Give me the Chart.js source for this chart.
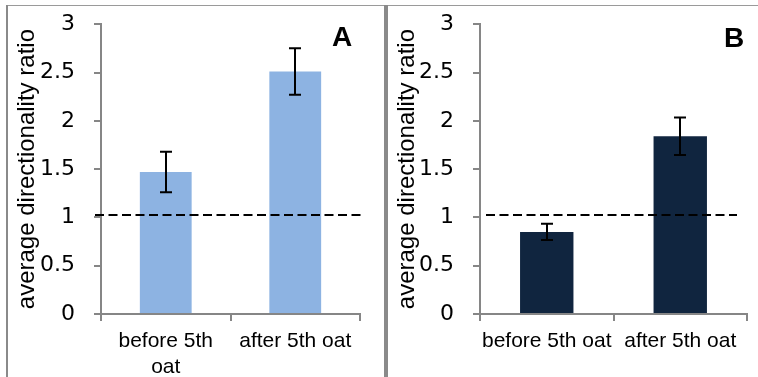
<!DOCTYPE html>
<html>
<head>
<meta charset="utf-8">
<script src="https://cdn.jsdelivr.net/npm/chart.js@4/dist/chart.umd.min.js"></script>
<style>
  html, body { margin: 0; padding: 0; background: #fff; }
  #wrap { position: relative; width: 758px; height: 377px; overflow: hidden; background: #fff; }
  #cA { position: absolute; left: 0; top: -8px; }
  #cB { position: absolute; left: 388px; top: -8px; }
  .ln { position: absolute; background: #8a8a8a; }
</style>
</head>
<body>
<div id="wrap">
  <canvas id="cA" width="384" height="385"></canvas>
  <canvas id="cB" width="370" height="385"></canvas>
  <div class="ln" style="left:6px;top:5px;width:752px;height:1px;background:#9a9a9a"></div>
  <div class="ln" style="left:6px;top:5px;width:2px;height:372px"></div>
  <div class="ln" style="left:384px;top:5px;width:4px;height:372px"></div>
</div>
<script>
// ---- data ----
const categoriesA = [["before 5th", "oat"], "after 5th oat"];
const categoriesB = ["before 5th oat", "after 5th oat"];
const valuesA = [1.47, 2.51];
const errorsA = [0.21, 0.24];
const valuesB = [0.85, 1.84];
const errorsB = [0.085, 0.195];
const referenceLevel = 1.02;
const yTicks = [0, 0.5, 1, 1.5, 2, 2.5, 3];
const yTitle = "average directionality ratio";

const FONT = "'Liberation Sans', Arial, sans-serif";
const TICKFONT = "'DejaVu Sans', 'Liberation Sans', sans-serif";
const AXIS = "#868686";

const errorBarPlugin = {
  id: 'errorBars',
  afterDatasetsDraw(chart, args, opts) {
    const ctx = chart.ctx, xs = chart.scales.x, ys = chart.scales.y;
    const meta = chart.getDatasetMeta(0);
    const vals = chart.data.datasets[0].data;
    ctx.save();
    ctx.strokeStyle = '#000';
    ctx.lineWidth = 2;
    opts.errors.forEach((e, i) => {
      const x = Math.round(meta.data[i].x);
      const yt = ys.getPixelForValue(vals[i] + e);
      const yb = ys.getPixelForValue(vals[i] - e);
      ctx.beginPath();
      ctx.moveTo(x, yt); ctx.lineTo(x, yb);
      ctx.moveTo(x - 6, yt); ctx.lineTo(x + 6, yt);
      ctx.moveTo(x - 6, yb); ctx.lineTo(x + 6, yb);
      ctx.stroke();
    });
    // reference line
    const yr = Math.round(ys.getPixelForValue(opts.ref));
    ctx.setLineDash([9, 4.5]);
    ctx.beginPath();
    ctx.moveTo(xs.left + opts.refLeft, yr);
    ctx.lineTo(xs.right + opts.refRight, yr);
    ctx.stroke();
    ctx.setLineDash([]);
    // panel letter
    ctx.fillStyle = '#000';
    ctx.font = "bold 28px " + FONT;
    ctx.textAlign = 'left';
    ctx.textBaseline = 'alphabetic';
    ctx.fillText(opts.letter, opts.lx, opts.ly);
    ctx.restore();
  }
};

function makeChart(id, labels, values, errors, color, cfg) {
  return new Chart(document.getElementById(id), {
    type: 'bar',
    data: {
      labels: labels,
      datasets: [{ data: values, backgroundColor: color, borderWidth: 0,
                   categoryPercentage: 1, barPercentage: 0.4 }]
    },
    options: {
      responsive: false,
      animation: false,
      events: [],
      layout: { padding: { left: cfg.padLeft, right: cfg.padRight, top: 14, bottom: 0 } },
      plugins: {
        legend: { display: false },
        tooltip: { enabled: false },
        errorBars: { errors: errors, ref: referenceLevel, refLeft: cfg.refLeft, refRight: cfg.refRight,
                     letter: cfg.letter, lx: cfg.lx, ly: cfg.ly }
      },
      scales: {
        x: {
          offset: true,
          border: { color: AXIS, width: 2 },
          grid: { display: true, drawOnChartArea: false, drawTicks: true, tickLength: 7,
                  color: AXIS, lineWidth: 2, offset: true },
          ticks: { color: '#000', font: { family: FONT, size: 21 }, padding: 8,
                   maxRotation: 0, minRotation: 0, autoSkip: false },
          afterFit(s) { s.height = 385 - 322; }
        },
        y: {
          min: 0, max: 3,
          afterBuildTicks(s) { s.ticks = yTicks.map(v => ({ value: v })); },
          border: { color: AXIS, width: 2 },
          grid: { display: true, drawOnChartArea: false, drawTicks: true, tickLength: 7,
                  color: AXIS, lineWidth: 2 },
          ticks: { color: '#000', font: { family: TICKFONT, size: 22 }, padding: 19,
                   callback: v => String(v) },
          title: { display: true, text: yTitle, color: '#000',
                   font: { family: FONT, size: 24 }, padding: { top: cfg.titlePad, bottom: 0 } },
          afterFit(s) { s.width = cfg.axisW; }
        }
      }
    },
    plugins: [errorBarPlugin]
  });
}

makeChart('cA', categoriesA, valuesA, errorsA, '#8DB3E2',
  { padLeft: 10, axisW: 91, padRight: 24, titlePad: 3, refLeft: -6, refRight: 2,
    letter: 'A', lx: 332, ly: 54 });
makeChart('cB', categoriesB, valuesB, errorsB, '#10253F',
  { padLeft: 0, axisW: 92, padRight: 11, titlePad: 5, refLeft: 6, refRight: -10,
    letter: 'B', lx: 336, ly: 55 });
</script>
</body>
</html>
